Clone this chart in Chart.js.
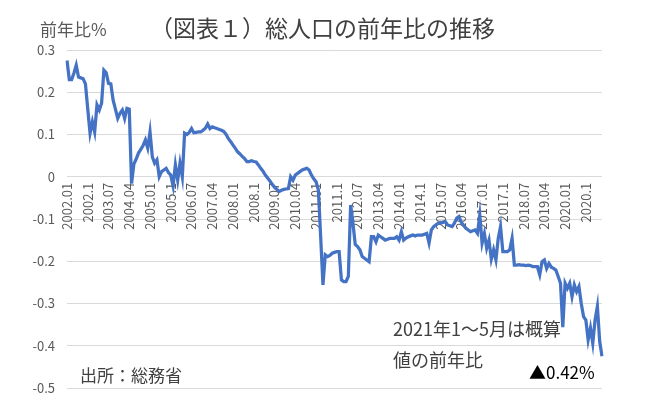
<!DOCTYPE html>
<html lang="ja">
<head>
<meta charset="utf-8">
<title>総人口の前年比の推移</title>
<script src="https://cdn.jsdelivr.net/npm/chart.js@4.4.1/dist/chart.umd.min.js"></script>
<style>
  html, body { margin: 0; padding: 0; background: #ffffff; }
  #wrap {
    position: relative;
    width: 650px;
    height: 416px;
    font-family: "Noto Sans CJK JP", "Noto Sans", sans-serif;
  }
  #wrap canvas { position: absolute; left: 0; top: 0; }
  .note { position: absolute; white-space: nowrap; color: #404040; line-height: 1; }
</style>
</head>
<body>
<div id="wrap">
  <canvas id="pop-chart" width="650" height="416"></canvas>
  <div class="note" style="left:40px; top:20px; font-size:17px; color:#595959;">前年比%</div>
  <div class="note" style="left:150px; top:16px; font-size:23px;">（図表１）総人口の前年比の推移</div>
  <div class="note" style="left:80px; top:366px; font-size:17px;">出所：総務省</div>
  <div class="note" style="left:393px; top:319px; font-size:18px;">2021年1～5月は概算</div>
  <div class="note" style="left:393px; top:350px; font-size:18px;">値の前年比</div>
  <div class="note" style="left:529px; top:363px; font-size:17px; color:#000000;">▲0.42%</div>
</div>

<script>
// 前年比 (%), monthly, 2002.01 - 2021.05
const yoy2002 = [0.275, 0.23, 0.23, 0.245, 0.264, 0.236, 0.234, 0.232, 0.22, 0.16, 0.103, 0.13];
const yoy2003 = [0.106, 0.17, 0.158, 0.174, 0.252, 0.246, 0.221, 0.22, 0.181, 0.16, 0.138, 0.15];
const yoy2004 = [0.158, 0.138, 0.162, 0.16, -0.016, 0.03, 0.042, 0.056, 0.065, 0.074, 0.087, 0.068];
const yoy2005 = [0.106, 0.047, 0.032, 0.04, 0.0, 0.012, 0.016, 0.02, 0.01, 0.004, -0.022, 0.028];
const yoy2006 = [-0.008, 0.032, 0.0, 0.103, 0.1, 0.105, 0.114, 0.104, 0.105, 0.106, 0.106, 0.11];
const yoy2007 = [0.115, 0.125, 0.114, 0.118, 0.116, 0.114, 0.112, 0.11, 0.107, 0.1, 0.09, 0.083];
const yoy2008 = [0.075, 0.067, 0.059, 0.054, 0.048, 0.043, 0.036, 0.036, 0.038, 0.036, 0.035, 0.028];
const yoy2009 = [0.02, 0.013, 0.004, -0.003, -0.01, -0.018, -0.025, -0.03, -0.035, -0.032, -0.03, -0.029];
const yoy2010 = [-0.028, 0.0, -0.008, 0.004, 0.008, 0.012, 0.016, 0.018, 0.02, 0.016, 0.004, -0.005];
const yoy2011 = [-0.012, -0.031, -0.142, -0.256, -0.185, -0.189, -0.186, -0.181, -0.179, -0.177, -0.177, -0.244];
const yoy2012 = [-0.248, -0.248, -0.236, -0.067, -0.11, -0.16, -0.165, -0.173, -0.189, -0.193, -0.197, -0.201];
const yoy2013 = [-0.142, -0.142, -0.154, -0.138, -0.142, -0.146, -0.15, -0.148, -0.146, -0.146, -0.146, -0.142];
const yoy2014 = [-0.15, -0.13, -0.15, -0.145, -0.142, -0.14, -0.138, -0.14, -0.138, -0.138, -0.138, -0.136];
const yoy2015 = [-0.134, -0.157, -0.126, -0.118, -0.114, -0.11, -0.11, -0.108, -0.106, -0.114, -0.116, -0.118];
const yoy2016 = [-0.11, -0.098, -0.094, -0.108, -0.115, -0.122, -0.126, -0.13, -0.128, -0.126, -0.134, -0.091];
const yoy2017 = [-0.157, -0.134, -0.169, -0.15, -0.195, -0.173, -0.197, -0.146, -0.118, -0.177, -0.177, -0.177];
const yoy2018 = [-0.173, -0.146, -0.209, -0.209, -0.208, -0.209, -0.209, -0.21, -0.209, -0.21, -0.213, -0.213];
const yoy2019 = [-0.213, -0.232, -0.201, -0.197, -0.217, -0.205, -0.214, -0.217, -0.221, -0.236, -0.252, -0.356];
const yoy2020 = [-0.252, -0.264, -0.252, -0.284, -0.256, -0.272, -0.26, -0.3, -0.331, -0.339, -0.386, -0.358];
const yoy2021 = [-0.394, -0.339, -0.307, -0.39, -0.425];

// axis labels shown every 9 months (Excel style, 2002.10 -> 2002.1)
const xTickLabels = ['2002.01', '2002.1', '2003.07', '2004.04', '2005.01', '2005.1', '2006.07',
  '2007.04', '2008.01', '2008.1', '2009.07', '2010.04', '2011.01', '2011.1', '2012.07',
  '2013.04', '2014.01', '2014.1', '2015.07', '2016.04', '2017.01', '2017.1', '2018.07',
  '2019.04', '2020.01', '2020.1'];
const yTickLabels = ['-0.5', '-0.4', '-0.3', '-0.2', '-0.1', '0', '0.1', '0.2', '0.3'];

const yoy = [].concat(yoy2002, yoy2003, yoy2004, yoy2005, yoy2006, yoy2007, yoy2008,
  yoy2009, yoy2010, yoy2011, yoy2012, yoy2013, yoy2014, yoy2015, yoy2016, yoy2017,
  yoy2018, yoy2019, yoy2020, yoy2021);

// one category per month
const months = [];
for (let i = 0; i < yoy.length; i++) {
  const y = 2002 + Math.floor(i / 12);
  const m = (i % 12) + 1;
  months.push(y + '.' + String(m).padStart(2, '0'));
}

const tickColor = '#595959';
const baseFont = '"Noto Sans CJK JP", "Noto Sans", sans-serif';

new Chart(document.getElementById('pop-chart'), {
  type: 'line',
  data: {
    labels: months,
    datasets: [{
      data: yoy,
      borderColor: '#4472C4',
      borderWidth: 3.25,
      pointRadius: 0,
      tension: 0,
      fill: false
    }]
  },
  options: {
    responsive: false,
    animation: false,
    devicePixelRatio: 1,
    layout: { padding: { left: 0, top: 50, right: 48, bottom: 28 } },
    plugins: {
      legend: { display: false },
      tooltip: { enabled: false }
    },
    scales: {
      x: {
        type: 'category',
        position: { y: 0 },
        offset: false,
        grid: { display: false, drawTicks: false },
        border: { display: false },
        ticks: {
          autoSkip: false,
          minRotation: 90,
          maxRotation: 90,
          padding: 6,
          color: tickColor,
          font: { family: baseFont, size: 13 },
          callback: (value, index) => (index % 9 === 0 ? xTickLabels[index / 9] : '')
        },
        afterFit: (scale) => {
          scale.paddingLeft = 0;
          scale.paddingRight = 0;
        }
      },
      y: {
        min: -0.5,
        max: 0.3,
        grid: { color: '#D9D9D9', lineWidth: 1, drawTicks: false },
        border: { display: false },
        ticks: {
          stepSize: 0.1,
          padding: 12,
          color: tickColor,
          font: { family: baseFont, size: 13 },
          callback: (value, index) => yTickLabels[index]
        },
        afterFit: (scale) => { scale.width = 67; }
      }
    }
  }
});
</script>
</body>
</html>
